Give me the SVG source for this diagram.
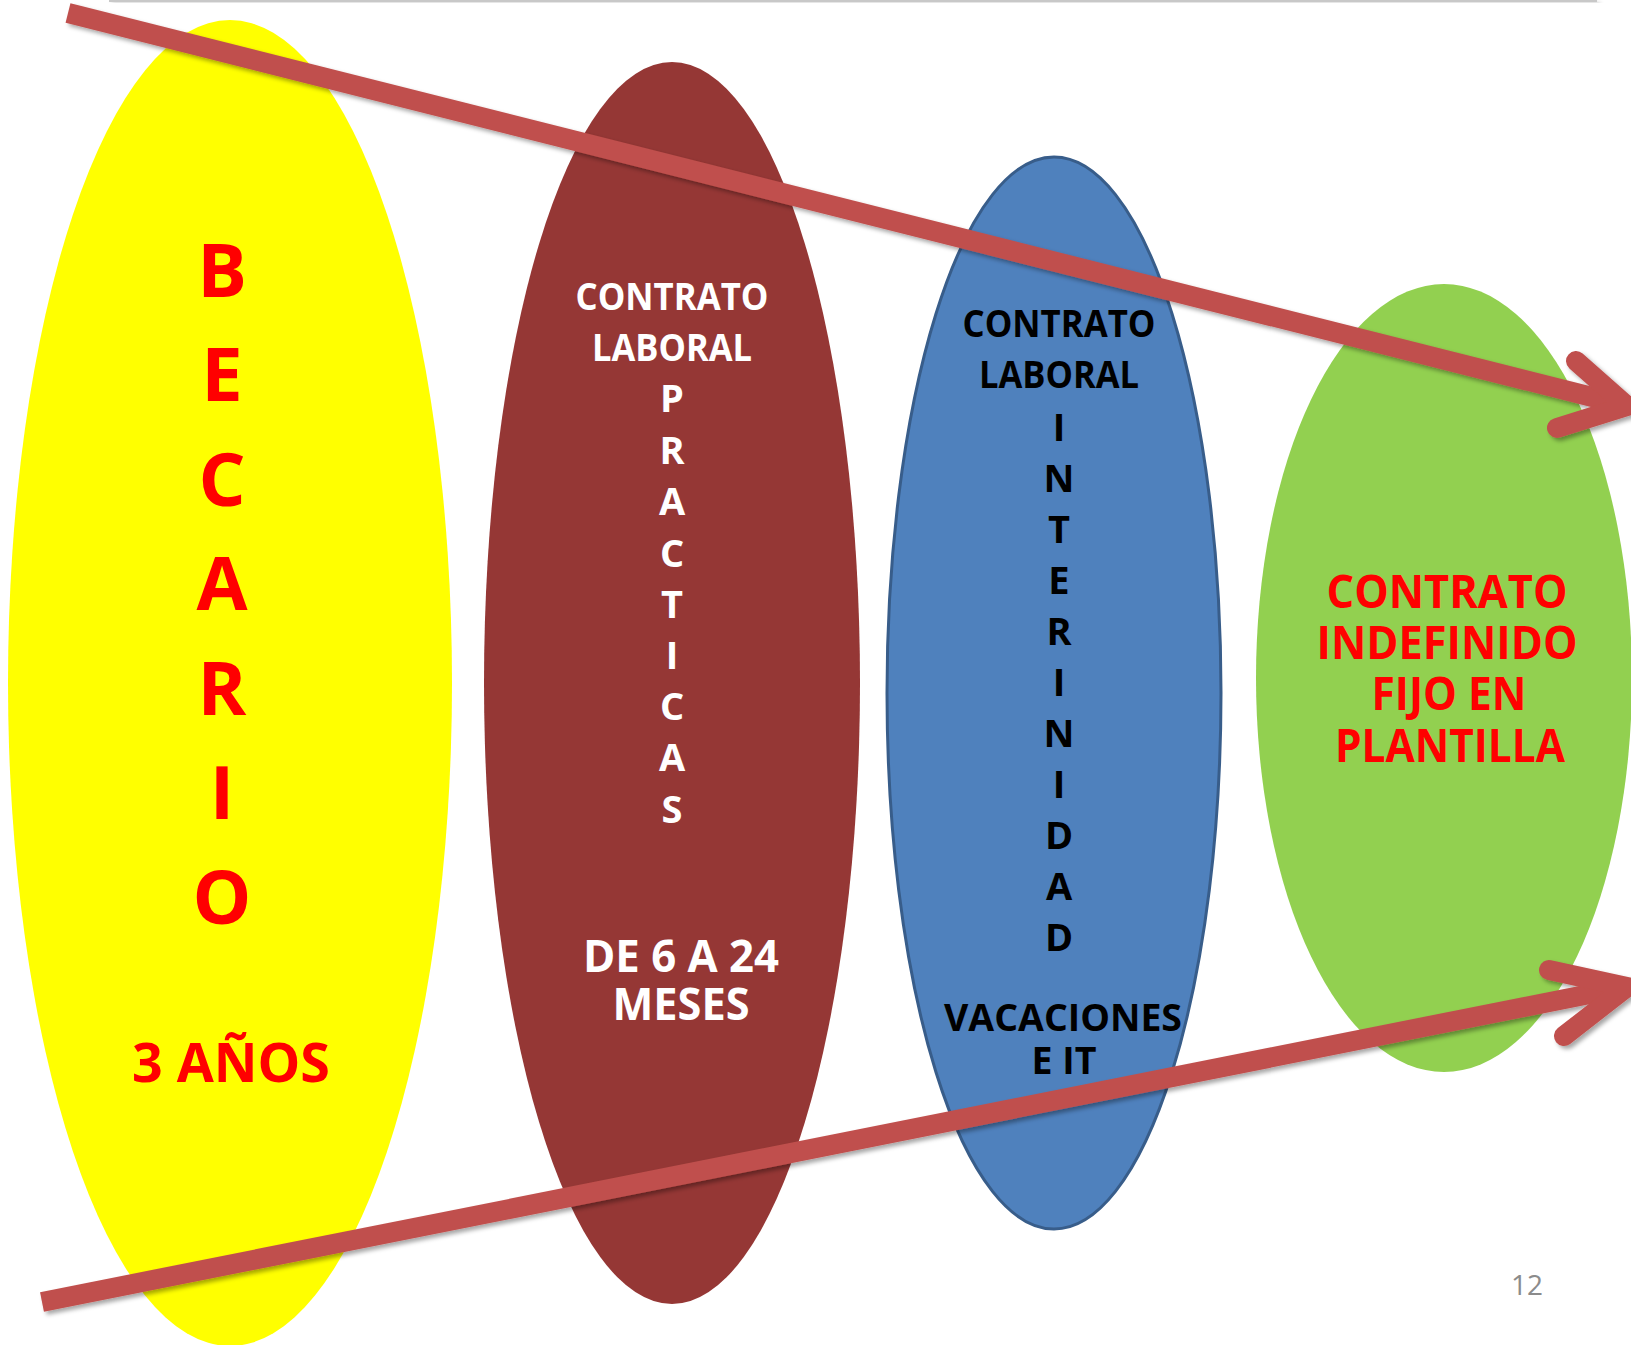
<svg xmlns="http://www.w3.org/2000/svg" width="1631" height="1345" viewBox="0 0 1631 1345">
<defs>
<filter id="sh" x="-5%" y="-20%" width="110%" height="140%">
<feDropShadow dx="3" dy="3" stdDeviation="2" flood-color="#000" flood-opacity="0.35"/>
</filter>
<style>
text{font-family:"Open Sans","Noto Sans",sans-serif;font-weight:700;text-anchor:middle}
.red{fill:#ff0000}
.wh{fill:#ffffff}
.bk{fill:#000000}
.arrow{fill:none;stroke:#c0504d;stroke-width:20}
.head{fill:none;stroke:#c0504d;stroke-width:20;stroke-linecap:round;stroke-linejoin:miter;stroke-miterlimit:10}
</style>
</defs>
<rect width="1631" height="1345" fill="#ffffff"/>
<rect x="109" y="0" width="1488" height="2" fill="#c8c8c8" filter="url(#sh)"/>

<g id="becario">
<ellipse cx="230" cy="683" rx="222" ry="663" fill="#ffff00"/>
<g class="red" font-size="74">
<text x="222" y="297">B</text>
<text x="222" y="401">E</text>
<text x="222" y="506">C</text>
<text x="222" y="610">A</text>
<text x="222" y="715">R</text>
<text x="222" y="819">I</text>
<text x="222" y="924">O</text>
</g>
<text class="red" x="231" y="1082" font-size="54" textLength="198" lengthAdjust="spacingAndGlyphs">3 AÑOS</text>
</g>

<g id="practicas">
<ellipse cx="672" cy="683" rx="188" ry="621" fill="#953735"/>
<g class="wh" font-size="38">
<text x="672" y="310" textLength="193" lengthAdjust="spacingAndGlyphs">CONTRATO</text>
<text x="672" y="361" textLength="160" lengthAdjust="spacingAndGlyphs">LABORAL</text>
<text x="672" y="412">P</text>
<text x="672" y="464">R</text>
<text x="672" y="515">A</text>
<text x="672" y="567">C</text>
<text x="672" y="618">T</text>
<text x="672" y="669">I</text>
<text x="672" y="720">C</text>
<text x="672" y="771">A</text>
<text x="672" y="823">S</text>
</g>
<g class="wh" font-size="45">
<text x="681" y="972" textLength="196" lengthAdjust="spacingAndGlyphs">DE 6 A 24</text>
<text x="681" y="1020" textLength="137" lengthAdjust="spacingAndGlyphs">MESES</text>
</g>
</g>

<g id="interinidad">
<ellipse cx="1054" cy="693" rx="167" ry="536" fill="#4f81bd" stroke="#385d8a" stroke-width="3"/>
<g class="bk" font-size="38">
<text x="1059" y="337" textLength="193" lengthAdjust="spacingAndGlyphs">CONTRATO</text>
<text x="1059" y="388" textLength="160" lengthAdjust="spacingAndGlyphs">LABORAL</text>
<text x="1059" y="441">I</text>
<text x="1059" y="492">N</text>
<text x="1059" y="543">T</text>
<text x="1059" y="594">E</text>
<text x="1059" y="645">R</text>
<text x="1059" y="696">I</text>
<text x="1059" y="747">N</text>
<text x="1059" y="798">I</text>
<text x="1059" y="849">D</text>
<text x="1059" y="900">A</text>
<text x="1059" y="951">D</text>
<text x="1063" y="1031" textLength="238" lengthAdjust="spacingAndGlyphs">VACACIONES</text>
<text x="1064" y="1074" textLength="65" lengthAdjust="spacingAndGlyphs">E IT</text>
</g>
</g>

<g id="indefinido">
<ellipse cx="1444" cy="678" rx="188" ry="394" fill="#92d050"/>
<g class="red" font-size="47">
<text x="1447" y="608" textLength="241" lengthAdjust="spacingAndGlyphs">CONTRATO</text>
<text x="1447" y="659" textLength="261" lengthAdjust="spacingAndGlyphs">INDEFINIDO</text>
<text x="1449" y="710" textLength="155" lengthAdjust="spacingAndGlyphs">FIJO EN</text>
<text x="1450" y="762" textLength="230" lengthAdjust="spacingAndGlyphs">PLANTILLA</text>
</g>
</g>

<g id="connectors" filter="url(#sh)">
<line class="arrow" x1="68" y1="13" x2="1620" y2="404"/>
<polyline class="head" points="1576,361 1627,406 1557,428"/>
<line class="arrow" x1="42" y1="1302" x2="1620" y2="988"/>
<polyline class="head" points="1549,970 1627,987 1564,1036"/>
</g>

<text x="1527" y="1295" font-size="28" style="font-weight:400;fill:#8b8b8b" textLength="32" lengthAdjust="spacingAndGlyphs">12</text>
</svg>
